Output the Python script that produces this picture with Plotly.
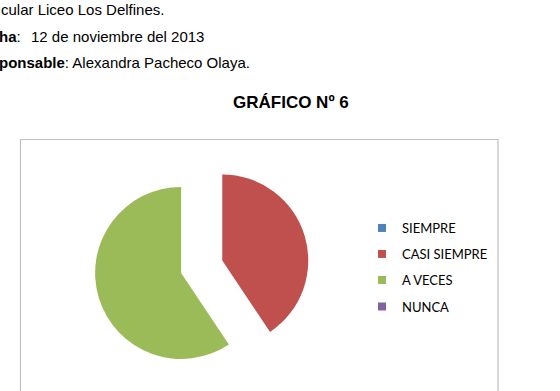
import plotly.graph_objects as go

W, H = 560, 391

categories = ["SIEMPRE", "CASI SIEMPRE", "A VECES", "NUNCA"]
values = [0, 13, 19, 0]
colors = ["#4F81BD", "#C0504D", "#9BBB59", "#8064A2"]
pulls = [0.25, 0.25, 0.25, 0.25]

def px(x):
    return x / W

def py(y):
    return 1 - y / H

fig = go.Figure()

# pie: center ~ (201.7, 266.7), radius 86, pull 0.25 -> half size 107.5
cx, cy, half = 201.7, 266.7, 107.5
fig.add_trace(go.Pie(
    labels=categories, values=values, sort=False, direction="clockwise",
    rotation=0, pull=pulls, marker=dict(colors=colors, line=dict(width=0)),
    textinfo="none", hoverinfo="label+value", showlegend=False,
    domain=dict(x=[px(cx - half), px(cx + half)], y=[py(cy + half), py(cy - half)]),
))

legend_names = ["legend", "legend2", "legend3", "legend4"]
legend_y = [228, 254, 280, 306.5]
for name, lab, col in zip(legend_names, categories, colors):
    fig.add_trace(go.Scatter(
        x=[None], y=[None], mode="markers", name=lab, legend=name,
        marker=dict(symbol="square", size=8, color=col), showlegend=True,
    ))

layout_legends = {}
for name, yy in zip(legend_names, legend_y):
    layout_legends[name] = dict(
        x=px(362), xanchor="left", y=py(yy), yanchor="middle",
        bgcolor="rgba(0,0,0,0)", borderwidth=0,
        font=dict(family="Lato, 'Open Sans', sans-serif", size=13, color="#000000"),
        itemclick=False, itemdoubleclick=False,
    )

body_font = dict(family="'Liberation Sans', Arial, sans-serif", size=15, color="#000000")
annotations = [
    dict(text="cular Liceo Los Delfines.", x=px(-1), y=py(10), xanchor="left", yanchor="middle"),
    dict(text="<b>ha</b>:", x=px(-3), y=py(36), xanchor="left", yanchor="middle"),
    dict(text="12 de noviembre del 2013", x=px(29), y=py(36), xanchor="left", yanchor="middle"),
    dict(text="<b>ponsable</b>: Alexandra Pacheco Olaya.", x=px(-3), y=py(62), xanchor="left", yanchor="middle"),
    dict(text="<b>GRÁFICO Nº 6</b>", x=px(291), y=py(103), xanchor="center", yanchor="middle",
         font=dict(family="'Liberation Sans', Arial, sans-serif", size=17, color="#000000")),
]
for a in annotations:
    a.update(xref="paper", yref="paper", showarrow=False)
    a.setdefault("font", body_font)

fig.update_layout(
    width=W, height=H, margin=dict(l=0, r=0, t=0, b=0),
    paper_bgcolor="white", plot_bgcolor="white",
    xaxis=dict(visible=False), yaxis=dict(visible=False),
    annotations=annotations,
    shapes=[dict(type="rect", xref="paper", yref="paper",
                 x0=px(20.5), x1=px(498), y0=py(400), y1=py(139.5),
                 line=dict(color="#BFBFBF", width=1.2), fillcolor="rgba(0,0,0,0)", layer="below")],
    **layout_legends,
)

fig.write_html("out.html")
